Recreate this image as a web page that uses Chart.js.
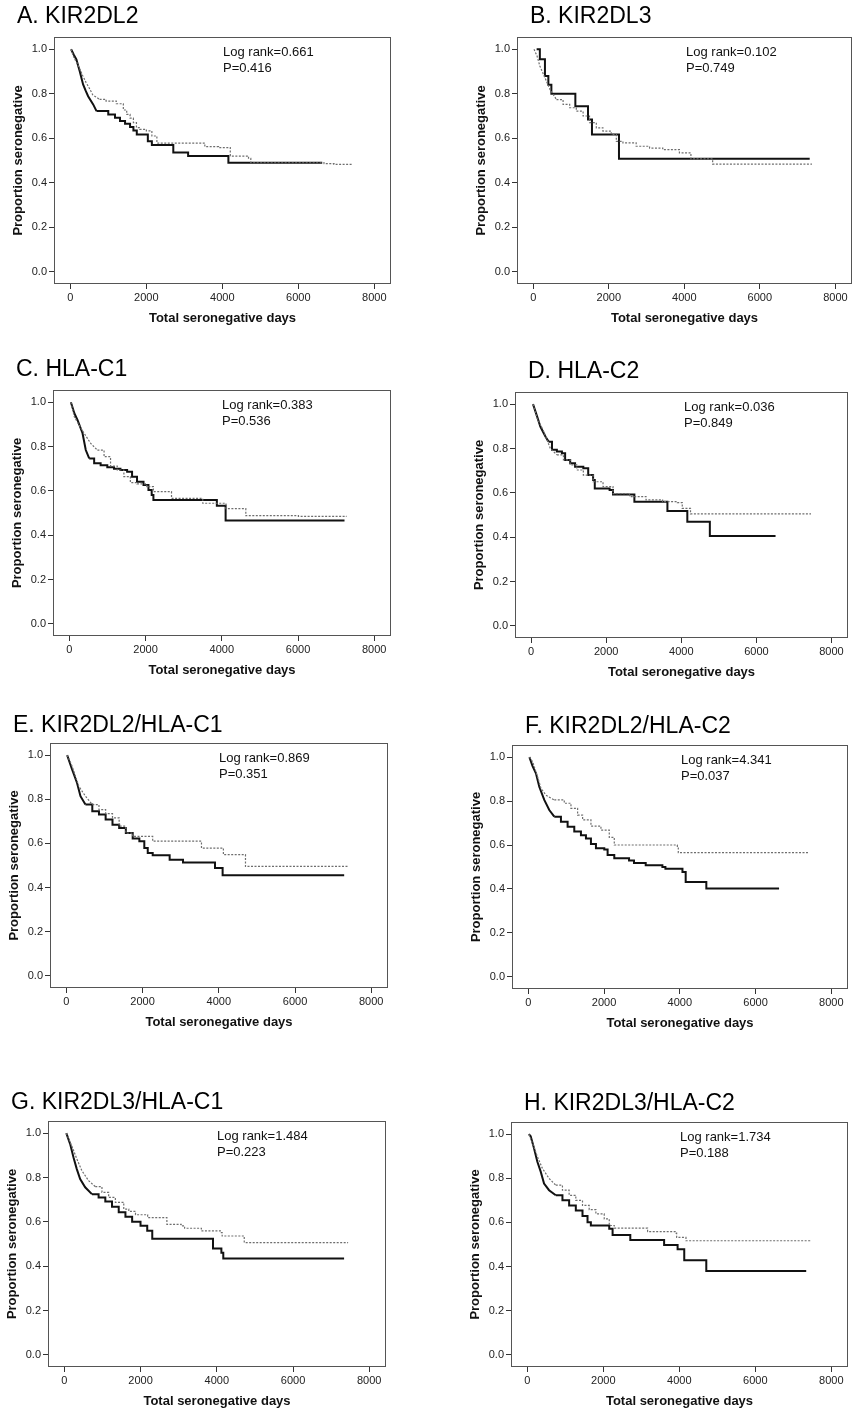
<!DOCTYPE html>
<html><head><meta charset="utf-8">
<script src="https://cdn.jsdelivr.net/npm/chart.js@4.4.0/dist/chart.umd.min.js"></script>
<style>
html,body{margin:0;padding:0;background:#fff;width:853px;height:1412px;overflow:hidden;position:relative}
canvas{position:absolute}
</style></head><body>
<script>
// ---- tick labels ----
const xTicks = [0, 2000, 4000, 6000, 8000];
const yTicks = [0, 0.2, 0.4, 0.6, 0.8, 1.0];

// ---- panel texts ----
const panelTitles = ["A. KIR2DL2","B. KIR2DL3","C. HLA-C1","D. HLA-C2","E. KIR2DL2/HLA-C1","F. KIR2DL2/HLA-C2","G. KIR2DL3/HLA-C1","H. KIR2DL3/HLA-C2"];
const logRanks = ["0.661","0.102","0.383","0.036","0.869","4.341","1.484","1.734"];
const pValues  = ["0.416","0.749","0.536","0.849","0.351","0.037","0.223","0.188"];

// ---- series (days, proportion seronegative) ----
const A_solid_t = [20,90,159,247,336,400,468,601,689,910,998,1175,1307,1440,1572,1660,1749,2040,2146,2710,3100,4160,6630];
const A_solid_s = [1.0,0.975,0.954,0.901,0.842,0.815,0.789,0.752,0.722,0.722,0.707,0.692,0.677,0.665,0.65,0.635,0.617,0.587,0.57,0.536,0.52,0.49,0.49];
const A_dot_t = [20,100,170,240,330,415,500,590,680,770,940,1210,1395,1484,1572,1660,1740,1830,2000,2146,2278,3540,3900,4210,4690,4750,6680,6940,7420];
const A_dot_s = [1.0,0.96,0.94,0.915,0.88,0.85,0.825,0.795,0.785,0.775,0.767,0.755,0.727,0.707,0.69,0.67,0.648,0.64,0.633,0.61,0.578,0.562,0.558,0.52,0.51,0.49,0.486,0.483,0.483];

const B_solid_t = [90,175,310,400,480,1115,1450,1555,2270,7320];
const B_solid_s = [1.0,0.955,0.88,0.84,0.80,0.744,0.684,0.617,0.508,0.508];
const B_dot_t = [20,100,175,250,310,440,615,790,965,1140,1320,1490,1670,1845,2065,2200,2375,2725,3080,3430,3870,4175,4750,7380];
const B_dot_s = [1.0,0.97,0.925,0.895,0.872,0.82,0.774,0.752,0.737,0.722,0.70,0.67,0.647,0.632,0.617,0.586,0.579,0.564,0.556,0.549,0.534,0.507,0.484,0.484];

const C_solid_t = [40,130,215,345,430,520,650,820,995,1170,1340,1515,1645,1775,1945,2075,2160,2205,3870,4100,7220];
const C_solid_s = [1.0,0.95,0.919,0.86,0.784,0.746,0.724,0.716,0.706,0.70,0.694,0.686,0.664,0.641,0.626,0.604,0.581,0.559,0.533,0.466,0.466];
const C_dot_t = [40,130,260,390,560,735,910,1080,1255,1430,1600,1775,2030,2205,2680,3500,4110,4630,6010,7265];
const C_dot_s = [1.0,0.934,0.896,0.859,0.814,0.784,0.754,0.712,0.694,0.664,0.637,0.631,0.619,0.596,0.566,0.544,0.52,0.488,0.485,0.483];

const D_solid_t = [50,160,245,380,465,555,685,820,905,1040,1170,1390,1520,1650,1695,2090,2180,2750,3630,4160,4760,6510];
const D_solid_s = [1.0,0.944,0.899,0.854,0.831,0.794,0.786,0.779,0.748,0.733,0.718,0.711,0.681,0.658,0.62,0.613,0.593,0.56,0.518,0.47,0.405,0.405];
const D_dot_t = [50,160,335,510,685,860,1040,1215,1390,1650,1915,2180,2620,3060,3500,3895,4025,4245,7455];
const D_dot_s = [1.0,0.937,0.877,0.801,0.771,0.749,0.726,0.703,0.68,0.65,0.628,0.596,0.583,0.568,0.56,0.556,0.53,0.505,0.505];

const E_solid_t = [20,150,280,370,500,680,855,1030,1210,1385,1560,1740,1915,2045,2135,2265,2710,3060,3900,4100,7290];
const E_solid_s = [1.0,0.935,0.874,0.814,0.776,0.746,0.731,0.708,0.685,0.67,0.647,0.622,0.61,0.579,0.557,0.546,0.526,0.514,0.489,0.456,0.456];
const E_dot_t = [20,150,325,500,680,855,1030,1210,1385,1560,1740,2265,3545,4120,4700,7380];
const E_dot_s = [1.0,0.95,0.859,0.814,0.776,0.753,0.735,0.716,0.678,0.647,0.632,0.61,0.579,0.549,0.496,0.492];

const F_solid_t = [30,110,202,290,422,554,686,862,1038,1214,1390,1522,1654,1786,2006,2094,2270,2660,2790,3100,3540,3620,4070,4155,4700,6620];
const F_solid_s = [1.0,0.96,0.926,0.865,0.805,0.759,0.729,0.706,0.683,0.661,0.645,0.63,0.605,0.585,0.58,0.555,0.54,0.53,0.518,0.508,0.50,0.492,0.477,0.432,0.402,0.402];
const F_dot_t = [30,114,246,334,466,686,950,1126,1302,1434,1654,1918,2138,2270,3935,3960,7410];
const F_dot_s = [1.0,0.979,0.91,0.858,0.827,0.805,0.79,0.767,0.736,0.714,0.686,0.668,0.635,0.60,0.59,0.565,0.564];

const G_solid_t = [50,150,238,326,414,546,722,898,1074,1250,1426,1602,1778,1998,2174,2306,3900,4120,4170,7340];
const G_solid_s = [1.0,0.952,0.891,0.838,0.793,0.756,0.725,0.71,0.692,0.668,0.643,0.623,0.60,0.582,0.56,0.524,0.48,0.461,0.435,0.435];
const G_dot_t = [50,150,200,326,458,634,810,986,1162,1338,1558,1690,1866,2185,2690,3065,3155,3595,4120,4140,4720,7430];
const G_dot_s = [1.0,0.96,0.94,0.884,0.831,0.786,0.759,0.733,0.71,0.688,0.657,0.647,0.632,0.619,0.589,0.582,0.571,0.559,0.551,0.536,0.506,0.503];

const H_solid_t = [40,88,176,264,352,440,572,748,924,1100,1276,1452,1584,1672,2156,2244,2710,3600,3955,4130,4710,7340];
const H_solid_s = [1.0,0.99,0.936,0.875,0.83,0.776,0.746,0.723,0.70,0.677,0.654,0.629,0.601,0.586,0.571,0.543,0.52,0.498,0.479,0.429,0.38,0.38];
const H_dot_t = [40,175,264,396,572,748,924,1100,1276,1452,1628,1804,2024,2156,2288,3165,3910,3930,4175,7430];
const H_dot_s = [1.0,0.942,0.898,0.845,0.799,0.769,0.746,0.723,0.70,0.677,0.658,0.639,0.616,0.586,0.574,0.558,0.552,0.532,0.517,0.514];

const solidT = [A_solid_t,B_solid_t,C_solid_t,D_solid_t,E_solid_t,F_solid_t,G_solid_t,H_solid_t];
const solidS = [A_solid_s,B_solid_s,C_solid_s,D_solid_s,E_solid_s,F_solid_s,G_solid_s,H_solid_s];
const dotT = [A_dot_t,B_dot_t,C_dot_t,D_dot_t,E_dot_t,F_dot_t,G_dot_t,H_dot_t];
const dotS = [A_dot_s,B_dot_s,C_dot_s,D_dot_s,E_dot_s,F_dot_s,G_dot_s,H_dot_s];

// day up to which the densely-stepped start of each curve is drawn as a continuous line
const solidDense = [700, 0, 520, 470, 500, 700, 730, 750];
const dotDense   = [770, 615, 735, 690, 680, 700, 810, 750];

// ---- layout (plot frame boxes: left, top, right, bottom; title offsets) ----
const boxes = [
  [54,37,391,284],[517,37,852,284],
  [53,390,391,636],[515,392,848,638],
  [50,743,388,988],[512,745,848,989],
  [48,1121,386,1367],[511,1122,848,1367]
];
const titleDx = [-37,13,-37,13,-37,13,-37,13];
const titleDy = [-14,-14,-14,-14,-11,-12,-12,-12];

const FONT = '"Liberation Sans", Arial, Helvetica, sans-serif';
const YW = 52, XH = 48, TOPPAD = 40, RIGHTPAD = 2;

const decor = {
  id: 'decor',
  beforeDatasetsDraw(chart, args, o) {
    const {ctx, chartArea: {left, top, right, bottom}} = chart;
    ctx.save();
    ctx.strokeStyle = '#555';
    ctx.lineWidth = 1;
    ctx.strokeRect(left + 0.5, top + 0.5, right - left - 1, bottom - top - 1);
    ctx.restore();
  },
  afterDraw(chart, args, o) {
    const {ctx, chartArea: {left, top}} = chart;
    ctx.save();
    ctx.fillStyle = '#000';
    ctx.textAlign = 'left';
    ctx.textBaseline = 'alphabetic';
    ctx.font = '23px ' + FONT;
    ctx.fillText(o.title, left + o.dx, top + o.dy);
    ctx.font = '13px ' + FONT;
    ctx.fillStyle = '#111';
    ctx.fillText('Log rank=' + o.lr, left + 169, top + 18.5);
    ctx.fillText('P=' + o.p, left + 169, top + 34.5);
    ctx.restore();
  }
};

function splitCurve(ts, ss, dense) {
  const pts = ts.map((x, k) => ({x, y: ss[k]}));
  let k = 0;
  while (k + 1 < pts.length && pts[k + 1].x <= dense) k++;
  return {early: pts.slice(0, k + 1), late: pts.slice(k)};
}

for (let i = 0; i < 8; i++) {
  const [l, t, r, b] = boxes[i];
  const cv = document.createElement('canvas');
  const W = (r - l) + YW + RIGHTPAD;
  const H = (b - t) + TOPPAD + XH;
  cv.width = W; cv.height = H;
  cv.style.width = W + 'px'; cv.style.height = H + 'px';
  cv.style.left = (l - YW) + 'px';
  cv.style.top = (t - TOPPAD) + 'px';
  document.body.appendChild(cv);

  const so = splitCurve(solidT[i], solidS[i], solidDense[i]);
  const dt = splitCurve(dotT[i], dotS[i], dotDense[i]);
  const dotStyle = {borderColor: '#6e6e6e', borderWidth: 1.2, borderDash: [2, 1.5], pointRadius: 0, fill: false, tension: 0};
  const solStyle = {borderColor: '#111', borderWidth: 2, pointRadius: 0, fill: false, tension: 0};

  new Chart(cv, {
    type: 'line',
    data: {
      datasets: [
        Object.assign({data: dt.early, stepped: false}, dotStyle),
        Object.assign({data: dt.late, stepped: true}, dotStyle),
        Object.assign({data: so.early, stepped: false}, solStyle),
        Object.assign({data: so.late, stepped: true}, solStyle)
      ]
    },
    options: {
      responsive: false,
      animation: false,
      devicePixelRatio: 1,
      layout: {padding: {left: 0, top: TOPPAD, right: RIGHTPAD, bottom: 0}},
      plugins: {
        legend: {display: false},
        tooltip: {enabled: false},
        title: {display: false},
        decor: {title: panelTitles[i], lr: logRanks[i], p: pValues[i], dx: titleDx[i], dy: titleDy[i]}
      },
      scales: {
        x: {
          type: 'linear', min: -430, max: 8440,
          afterBuildTicks: s => { s.ticks = xTicks.map(v => ({value: v})); },
          afterFit: s => { s.height = XH; },
          grid: {drawOnChartArea: false, drawTicks: true, tickLength: 5, color: '#333'},
          border: {display: false},
          ticks: {font: {family: FONT, size: 11}, color: '#222', padding: 2, maxRotation: 0, callback: v => String(v)},
          title: {display: true, text: 'Total seronegative days', font: {family: FONT, size: 13, weight: 'bold'}, color: '#111', padding: {top: 0, bottom: 6}}
        },
        y: {
          type: 'linear', min: -0.055, max: 1.055,
          afterBuildTicks: s => { s.ticks = yTicks.map(v => ({value: v})); },
          afterFit: s => { s.width = YW; },
          grid: {drawOnChartArea: false, drawTicks: true, tickLength: 5, color: '#333'},
          border: {display: false},
          ticks: {font: {family: FONT, size: 11}, color: '#222', padding: 2, callback: v => Number(v).toFixed(1)},
          title: {display: true, text: 'Proportion seronegative', font: {family: FONT, size: 13, weight: 'bold'}, color: '#111', padding: {top: 9, bottom: 0}}
        }
      }
    },
    plugins: [decor]
  });
}
</script>
</body></html>
